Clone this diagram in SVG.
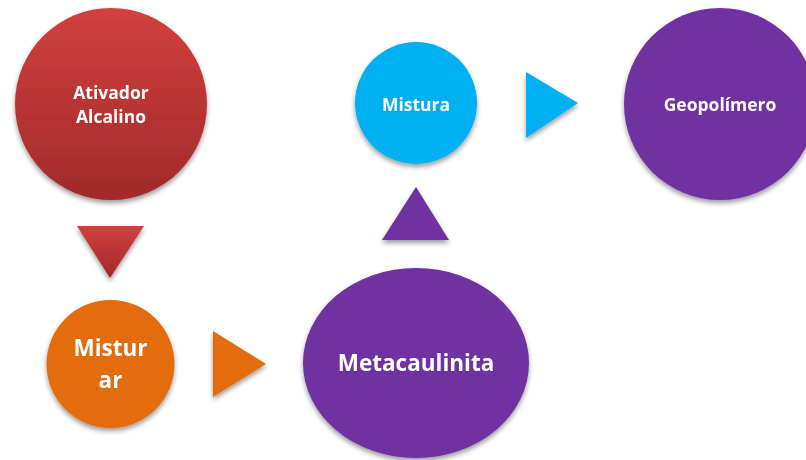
<svg xmlns="http://www.w3.org/2000/svg" width="806" height="460" viewBox="0 0 806 460">
<defs>
<linearGradient id="red" x1="0" y1="0" x2="0" y2="1">
<stop offset="0" stop-color="#D2403D"/>
<stop offset="1" stop-color="#A02A2A"/>
</linearGradient>
<filter id="sh" x="-20%" y="-20%" width="140%" height="150%">
<feGaussianBlur in="SourceAlpha" stdDeviation="2.5"/>
<feOffset dx="0" dy="3" result="b"/>
<feComponentTransfer><feFuncA type="linear" slope="0.4"/></feComponentTransfer>
<feMerge><feMergeNode/><feMergeNode in="SourceGraphic"/></feMerge>
</filter>
</defs>
<style>
text{font-family:"Open Sans","Liberation Sans",sans-serif;font-weight:bold;fill:#fff;text-anchor:middle;dominant-baseline:central}
.s{font-size:17.5px}
.l{font-size:22.5px}
.red{fill:url(#red)}
.org{fill:#E36C0A}
.pur{fill:#7030A0}
.cyn{fill:#00B0F0}
</style>
<rect width="806" height="460" fill="#fff"/>
<g id="connectors" filter="url(#sh)">
<polygon class="red" points="77,226 144,226 110,278"/>
<polygon class="org" points="213,331 266,364 213,397"/>
<polygon class="pur" points="382,240 449,240 416,187"/>
<polygon class="cyn" points="526,72 578,103 526,138"/>
</g>
<g id="ativador" filter="url(#sh)">
<circle class="red" cx="111" cy="104" r="96"/>
<text class="s" x="111" y="92">Ativador</text>
<text class="s" x="111" y="116">Alcalino</text>
</g>
<g id="misturar" filter="url(#sh)">
<circle class="org" cx="110.5" cy="364" r="64"/>
<text class="l" x="110.5" y="347">Mistur</text>
<text class="l" x="110.5" y="379">ar</text>
</g>
<g id="metacaulinita" filter="url(#sh)">
<ellipse class="pur" cx="416" cy="363" rx="113" ry="95"/>
<text class="l" x="416" y="362">Metacaulinita</text>
</g>
<g id="mistura" filter="url(#sh)">
<circle class="cyn" cx="416" cy="103" r="61"/>
<text class="s" x="416" y="104">Mistura</text>
</g>
<g id="geopolimero" filter="url(#sh)">
<circle class="pur" cx="720" cy="104" r="96"/>
<text class="s" x="720" y="104">Geopolímero</text>
</g>
</svg>
